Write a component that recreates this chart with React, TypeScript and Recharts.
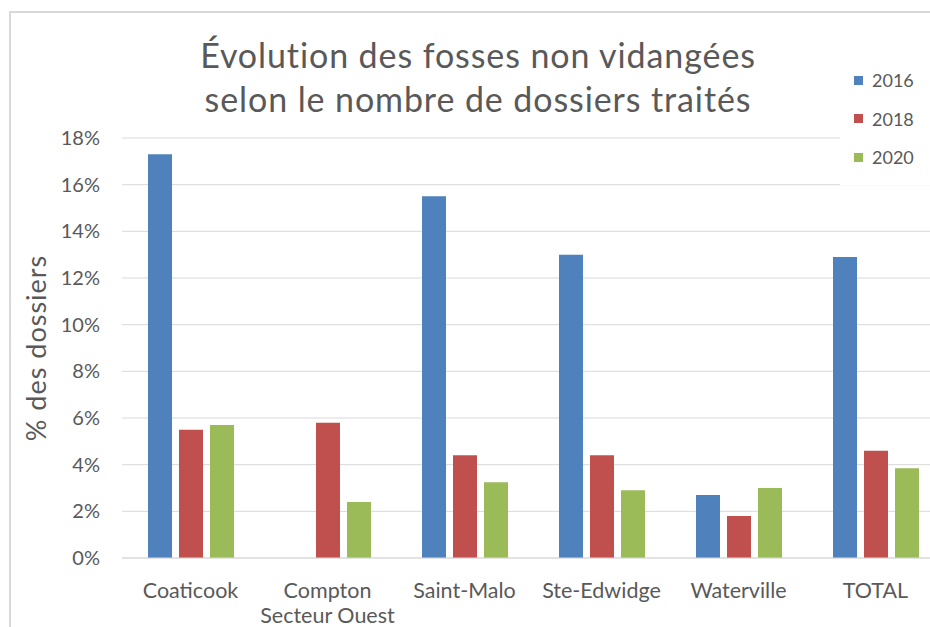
import React from 'react';
import { Bar, BarChart, CartesianGrid, Legend, XAxis, YAxis } from 'recharts';

const categories = ['Coaticook', 'Compton\nSecteur Ouest', 'Saint-Malo', 'Ste-Edwidge', 'Waterville', 'TOTAL'];
const values2016 = [17.3, null, 15.5, 13.0, 2.7, 12.9];
const values2018 = [5.5, 5.8, 4.4, 4.4, 1.8, 4.6];
const values2020 = [5.7, 2.4, 3.25, 2.9, 3.0, 3.85];
const yTicks = [0, 2, 4, 6, 8, 10, 12, 14, 16, 18];

const series = [
  { key: 'y2016', name: '2016', color: '#4F81BD', values: values2016 },
  { key: 'y2018', name: '2018', color: '#C0504D', values: values2018 },
  { key: 'y2020', name: '2020', color: '#9BBB59', values: values2020 },
];

const data = categories.map((name, i) => {
  const row: Record<string, string | number | null> = { name };
  series.forEach((s) => {
    row[s.key] = s.values[i];
  });
  return row;
});

const FONT = 'Lato, "Open Sans", sans-serif';
const TEXT = '#595959';

const CategoryTick = ({ x, y, payload }: any) => {
  const lines = String(payload.value).split('\n');
  return (
    <text x={x} y={y} textAnchor="middle" fill={TEXT} fontSize={21.5} fontFamily={FONT}>
      {lines.map((line, i) => (
        <tspan key={i} x={x} dy={i === 0 ? 38 : 25}>
          {line}
        </tspan>
      ))}
    </text>
  );
};

const LegendList = () => (
  <div style={{ background: '#fff', fontFamily: FONT, fontSize: 18, color: TEXT, padding: '6px 0 8px 14px' }}>
    {series.map((s) => (
      <div key={s.key} style={{ display: 'flex', alignItems: 'center', height: 38.5 }}>
        <span style={{ width: 9, height: 9, background: s.color, marginRight: 9 }} />
        {s.name}
      </div>
    ))}
  </div>
);

export default function App() {
  return (
    <div style={{ position: 'absolute', left: 0, top: 0, width: 930, height: 627, overflow: 'hidden', background: '#fff' }}>
      <div
        style={{
          position: 'absolute',
          left: 9,
          top: 11,
          width: 1000,
          height: 1000,
          border: '2px solid #d9d9d9',
        }}
      />
      <div
        style={{
          position: 'absolute',
          left: 0,
          top: 33,
          width: 956,
          textAlign: 'center',
          fontFamily: FONT,
          fontSize: 34,
          letterSpacing: 0.9,
          lineHeight: '44px',
          color: TEXT,
        }}
      >
        Évolution des fosses non vidangées
        <br />
        selon le nombre de dossiers traités
      </div>
      <div style={{ position: 'absolute', left: 0, top: 0 }}>
        <BarChart
          width={960}
          height={627}
          data={data}
          margin={{ top: 138, right: 16, bottom: 0, left: 0 }}
          barSize={24}
          barGap={7}
        >
          <CartesianGrid vertical={false} stroke="#d9d9d9" />
          <XAxis
            dataKey="name"
            interval={0}
            height={69}
            tickLine={false}
            tickSize={0}
            axisLine={{ stroke: '#d9d9d9' }}
            tick={<CategoryTick />}
          />
          <YAxis
            width={122}
            domain={[0, 18]}
            ticks={yTicks}
            tickFormatter={(v) => `${v}%`}
            axisLine={false}
            tickLine={false}
            tickSize={0}
            tickMargin={22}
            tick={{ fill: TEXT, fontSize: 20, fontFamily: FONT }}
            label={{
              value: '% des dossiers',
              angle: -90,
              position: 'insideLeft',
              offset: 36,
              style: { fill: TEXT, fontSize: 27, letterSpacing: 1, fontFamily: FONT, textAnchor: 'middle' },
            }}
          />
          <Legend
            layout="horizontal"
            verticalAlign="middle"
            align="center"
            content={<LegendList />}
            wrapperStyle={{ left: 840, top: 55, width: 100 }}
          />
          {series.map((s) => (
            <Bar key={s.key} dataKey={s.key} name={s.name} fill={s.color} isAnimationActive={false} />
          ))}
        </BarChart>
      </div>
    </div>
  );
}
